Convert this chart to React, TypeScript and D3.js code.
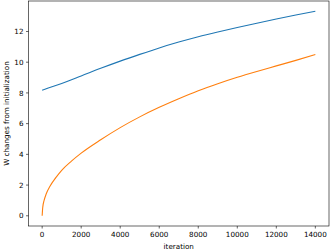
import React from "react";
import * as d3 from "d3";

const blueIter = [0, 1000, 2000, 3000, 4000, 5000, 6000, 7000, 8000, 9000, 10000, 11000, 12000, 13000, 14000];
const blueVals = [8.18, 8.61, 9.1, 9.6, 10.07, 10.51, 10.93, 11.31, 11.66, 11.97, 12.26, 12.54, 12.81, 13.07, 13.32];

const orangeIter = [0, 30, 100, 200, 400, 700, 1000, 1500, 2000, 3000, 4000, 5000, 6000, 7000, 8000, 9000, 10000, 11000, 12000, 13000, 14000];
const orangeVals = [0, 0.55, 1.0, 1.4, 1.92, 2.48, 2.96, 3.56, 4.08, 4.95, 5.74, 6.44, 7.06, 7.62, 8.14, 8.6, 9.02, 9.4, 9.76, 10.12, 10.5];

const xTicks = [0, 2000, 4000, 6000, 8000, 10000, 12000, 14000];
const yTicks = [0, 2, 4, 6, 8, 10, 12];

const xLabel = "iteration";
const yLabel = "W changes from initialization";

export default function App() {
  const left = 28.5, right = 329, top = 1, bottom = 226;
  const x = d3.scaleLinear().domain([-700, 14700]).range([left, right]);
  const y = d3.scaleLinear().domain([-0.665, 13.985]).range([bottom, top]);
  const line = d3.line<[number, number]>().x(d => x(d[0])).y(d => y(d[1])).curve(d3.curveMonotoneX);
  const blue = line(blueIter.map((v, i) => [v, blueVals[i]]) as [number, number][]) || "";
  const orange = line(orangeIter.map((v, i) => [v, orangeVals[i]]) as [number, number][]) || "";
  const font = "DejaVu Sans, sans-serif";
  return (
    <svg width={332} height={251} style={{ position: "absolute", left: 0, top: 0, background: "#fff" }}>
      <rect x={0} y={0} width={332} height={251} fill="#fff" />
      <path d={blue} fill="none" stroke="#1f77b4" strokeWidth={1.1} />
      <path d={orange} fill="none" stroke="#ff7f0e" strokeWidth={1.1} />
      <rect x={left} y={top} width={right - left} height={bottom - top} fill="none" stroke="#000" strokeWidth={0.6} />
      {xTicks.map(t => (
        <g key={"x" + t}>
          <line x1={x(t)} x2={x(t)} y1={bottom} y2={bottom + 2.5} stroke="#000" strokeWidth={0.6} />
          <text x={x(t)} y={bottom + 11.2} fontSize={7.2} fontFamily={font} textAnchor="middle" fill="#000">{t}</text>
        </g>
      ))}
      {yTicks.map(t => (
        <g key={"y" + t}>
          <line x1={left - 2.5} x2={left} y1={y(t)} y2={y(t)} stroke="#000" strokeWidth={0.6} />
          <text x={left - 5} y={y(t) + 2.6} fontSize={7.2} fontFamily={font} textAnchor="end" fill="#000">{t}</text>
        </g>
      ))}
      <text x={(left + right) / 2} y={249} fontSize={7.2} fontFamily={font} textAnchor="middle" fill="#000">{xLabel}</text>
      <text transform={`translate(8.5, ${(top + bottom) / 2}) rotate(-90)`} fontSize={7.2} fontFamily={font} textAnchor="middle" fill="#000">{yLabel}</text>
    </svg>
  );
}
